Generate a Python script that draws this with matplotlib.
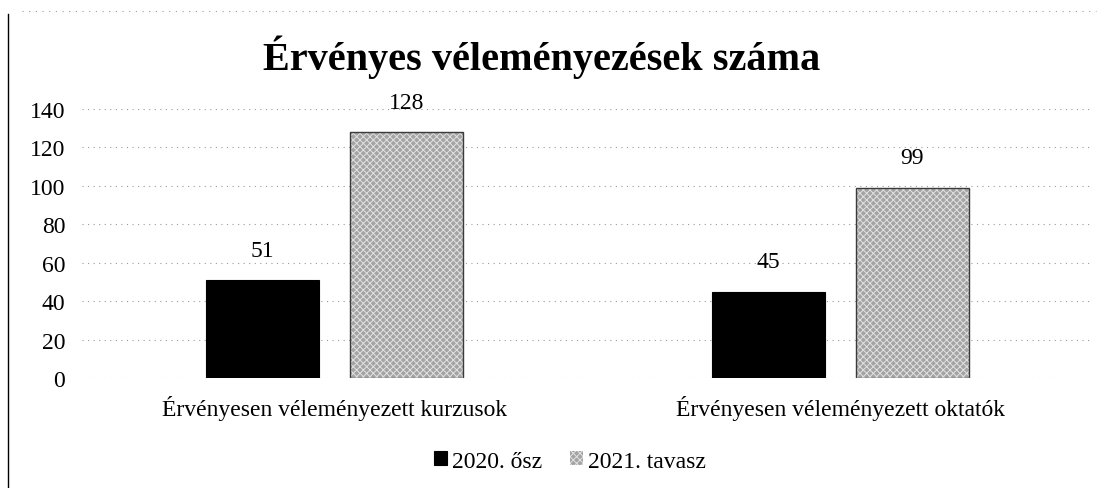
import matplotlib.pyplot as plt
from matplotlib.lines import Line2D
import numpy as np

# Data
categories = ["Érvényesen véleményezett kurzusok", "Érvényesen véleményezett oktatók"]
series_names = ["2020. ősz", "2021. tavasz"]
values_2020 = [51, 45]
values_2021 = [128, 99]
y_ticks = [0, 20, 40, 60, 80, 100, 120, 140]

# Style
plt.rcParams.update({'font.family': 'Liberation Serif', 'font.size': 17,
                     'hatch.linewidth': 0.7})
GRAY = '#a4a4a4'

fig = plt.figure(figsize=(11.07, 4.89), dpi=100)
ax = fig.add_axes([0.074, 0.225, 0.9135, 0.55])

x = np.arange(len(categories))
width = 0.224
off = 0.1425

b1 = ax.bar(x - off, values_2020, width, color='black', edgecolor='black',
            linewidth=0.8, label=series_names[0], zorder=3)
b2 = ax.bar(x + off, values_2021, width, color=GRAY, edgecolor='#e2e2e2',
            hatch='xxxxx', linewidth=0, label=series_names[1], zorder=3)
ax.bar(x + off, values_2021, width, fill=False, edgecolor='#3a3a3a',
       linewidth=1.0, zorder=4)

for bars in (b1, b2):
    for rect in bars:
        h = rect.get_height()
        ax.annotate(f"{h:g}", (rect.get_x() + rect.get_width() / 2, h),
                    xytext=(0, 14), textcoords='offset points',
                    ha='center', va='bottom', fontsize=17)

ax.set_xlim(-0.5, 1.5)
ax.set_ylim(0, 140)
ax.set_yticks(y_ticks)
ax.set_xticks(x)
ax.set_xticklabels(categories, fontsize=17)
ax.tick_params(axis='x', length=0, pad=12)
ax.tick_params(axis='y', length=0, pad=12, labelsize=17)
ax.grid(axis='y', color='#9a9a9a', linestyle=(0, (1, 4)), linewidth=0.8, zorder=0)
for s in ax.spines.values():
    s.set_visible(False)

fig.suptitle("Érvényes véleményezések száma", fontsize=29, weight='bold',
             x=0.489, y=0.928)

leg = fig.legend(handles=[b1, b2], labels=series_names, loc='center',
                 bbox_to_anchor=(0.515, 0.055), ncol=2, frameon=False,
                 fontsize=17, handlelength=0.55, handleheight=0.55,
                 handletextpad=0.2, columnspacing=1.2)

# scan frame edges
fig.add_artist(Line2D([0.0075, 0.0075], [0.0, 0.97], color='black', linewidth=1.0))
fig.add_artist(Line2D([0.02, 0.99], [0.975, 0.975], color='#9a9a9a',
                      linestyle=(0, (1, 5)), linewidth=0.8))

fig.savefig("out.png", dpi=100)
